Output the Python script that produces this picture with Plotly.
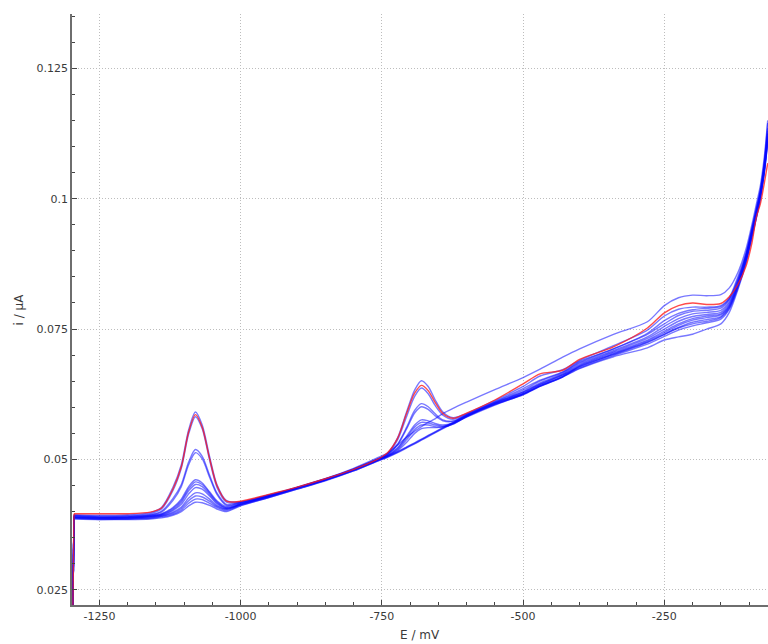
import plotly.graph_objects as go

# Potential grid (mV)
E = [-1297, -1295, -1250, -1200, -1160, -1140, -1120, -1105, -1092, -1080,
     -1068, -1055, -1042, -1025, -1000, -950, -900, -850, -800, -760,
     -740, -722, -706, -692, -680, -668, -656, -642, -624, -600,
     -550, -500, -470, -430, -400, -340, -280, -250, -225, -200,
     -175, -150, -135, -120, -105, -95, -87, -80, -73, -67]

# Current (uA) for each scan
b1 = [0.0205, 0.0394, 0.0393, 0.0394, 0.0398, 0.0408, 0.0446, 0.0490, 0.0557, 0.0591,
      0.0566, 0.0506, 0.0452, 0.0421, 0.0419, 0.0432, 0.0446, 0.0462, 0.0480, 0.0498,
      0.0512, 0.0542, 0.0592, 0.0633, 0.0651, 0.0640, 0.0615, 0.0591, 0.0580, 0.0588,
      0.0613, 0.0640, 0.0660, 0.0672, 0.0690, 0.0718, 0.0748, 0.0775, 0.0788, 0.0792,
      0.0792, 0.0795, 0.0810, 0.0850, 0.0898, 0.0943, 0.0983, 0.1018, 0.1072, 0.1145]
b2 = [0.0205, 0.0392, 0.0391, 0.0392, 0.0396, 0.0405, 0.0440, 0.0483, 0.0549, 0.0582,
      0.0559, 0.0499, 0.0447, 0.0418, 0.0418, 0.0431, 0.0446, 0.0462, 0.0481, 0.0499,
      0.0511, 0.0538, 0.0583, 0.0621, 0.0637, 0.0626, 0.0604, 0.0585, 0.0577, 0.0587,
      0.0611, 0.0636, 0.0652, 0.0668, 0.0688, 0.0712, 0.0742, 0.0766, 0.0780, 0.0787,
      0.0790, 0.0793, 0.0808, 0.0845, 0.0893, 0.0938, 0.0978, 0.1012, 0.1062, 0.1125]
b3 = [0.0205, 0.0393, 0.0390, 0.0391, 0.0394, 0.0401, 0.0425, 0.0452, 0.0495, 0.0519,
      0.0506, 0.0470, 0.0436, 0.0414, 0.0418, 0.0432, 0.0447, 0.0463, 0.0482, 0.0500,
      0.0510, 0.0530, 0.0562, 0.0594, 0.0607, 0.0601, 0.0588, 0.0576, 0.0574, 0.0586,
      0.0610, 0.0633, 0.0650, 0.0667, 0.0686, 0.0712, 0.0740, 0.0760, 0.0776, 0.0784,
      0.0786, 0.0790, 0.0806, 0.0843, 0.0895, 0.0942, 0.0980, 0.1015, 0.1068, 0.1135]
b4 = [0.0205, 0.0390, 0.0389, 0.0390, 0.0393, 0.0399, 0.0421, 0.0448, 0.0490, 0.0513,
      0.0501, 0.0466, 0.0433, 0.0412, 0.0417, 0.0431, 0.0446, 0.0462, 0.0481, 0.0499,
      0.0509, 0.0528, 0.0559, 0.0589, 0.0601, 0.0596, 0.0584, 0.0574, 0.0573, 0.0585,
      0.0609, 0.0630, 0.0647, 0.0665, 0.0684, 0.0709, 0.0735, 0.0755, 0.0770, 0.0779,
      0.0782, 0.0786, 0.0802, 0.0840, 0.0892, 0.0938, 0.0976, 0.1012, 0.1065, 0.1130]
b5 = [0.0205, 0.0391, 0.0389, 0.0389, 0.0392, 0.0396, 0.0408, 0.0424, 0.0448, 0.0461,
      0.0455, 0.0438, 0.0421, 0.0410, 0.0416, 0.0430, 0.0446, 0.0462, 0.0481, 0.0499,
      0.0508, 0.0523, 0.0545, 0.0566, 0.0576, 0.0574, 0.0569, 0.0566, 0.0570, 0.0584,
      0.0608, 0.0628, 0.0645, 0.0663, 0.0682, 0.0707, 0.0732, 0.0750, 0.0765, 0.0774,
      0.0778, 0.0782, 0.0799, 0.0838, 0.0890, 0.0936, 0.0975, 0.1010, 0.1062, 0.1125]
b6 = [0.0205, 0.0389, 0.0388, 0.0388, 0.0391, 0.0395, 0.0406, 0.0421, 0.0444, 0.0457,
      0.0452, 0.0436, 0.0419, 0.0408, 0.0415, 0.0429, 0.0445, 0.0461, 0.0480, 0.0498,
      0.0507, 0.0521, 0.0542, 0.0562, 0.0571, 0.0570, 0.0566, 0.0564, 0.0569, 0.0583,
      0.0607, 0.0626, 0.0643, 0.0661, 0.0680, 0.0705, 0.0729, 0.0746, 0.0760, 0.0770,
      0.0775, 0.0779, 0.0796, 0.0836, 0.0888, 0.0934, 0.0972, 0.1008, 0.1058, 0.1120]
b7 = [0.0205, 0.0390, 0.0388, 0.0389, 0.0391, 0.0394, 0.0404, 0.0418, 0.0440, 0.0452,
      0.0448, 0.0433, 0.0417, 0.0407, 0.0414, 0.0429, 0.0445, 0.0461, 0.0480, 0.0498,
      0.0507, 0.0519, 0.0538, 0.0557, 0.0566, 0.0566, 0.0563, 0.0563, 0.0568, 0.0582,
      0.0606, 0.0625, 0.0641, 0.0659, 0.0679, 0.0703, 0.0727, 0.0743, 0.0757, 0.0767,
      0.0772, 0.0777, 0.0794, 0.0834, 0.0886, 0.0932, 0.0970, 0.1006, 0.1056, 0.1118]
b8 = [0.0205, 0.0388, 0.0387, 0.0388, 0.0390, 0.0393, 0.0402, 0.0414, 0.0434, 0.0446,
      0.0443, 0.0430, 0.0415, 0.0406, 0.0414, 0.0429, 0.0445, 0.0461, 0.0480, 0.0498,
      0.0506, 0.0517, 0.0533, 0.0550, 0.0559, 0.0561, 0.0561, 0.0562, 0.0568, 0.0582,
      0.0605, 0.0624, 0.0640, 0.0658, 0.0678, 0.0701, 0.0724, 0.0740, 0.0753, 0.0763,
      0.0768, 0.0774, 0.0792, 0.0832, 0.0884, 0.0930, 0.0968, 0.1004, 0.1054, 0.1115]
b9 = [0.0205, 0.0389, 0.0387, 0.0387, 0.0389, 0.0392, 0.0399, 0.0409, 0.0426, 0.0436,
      0.0434, 0.0424, 0.0412, 0.0405, 0.0414, 0.0430, 0.0446, 0.0463, 0.0483, 0.0502,
      0.0512, 0.0528, 0.0543, 0.0554, 0.0563, 0.0571, 0.0578, 0.0588, 0.0598, 0.0610,
      0.0634, 0.0657, 0.0673, 0.0696, 0.0712, 0.0740, 0.0764, 0.0795, 0.0810, 0.0815,
      0.0814, 0.0816, 0.0829, 0.0858, 0.0905, 0.0950, 0.0990, 0.1025, 0.1080, 0.1150]
b10 = [0.0205, 0.0388, 0.0386, 0.0386, 0.0388, 0.0391, 0.0397, 0.0406, 0.0421, 0.0430,
       0.0428, 0.0420, 0.0410, 0.0404, 0.0413, 0.0428, 0.0444, 0.0460, 0.0479, 0.0497,
       0.0506, 0.0515, 0.0524, 0.0532, 0.0539, 0.0546, 0.0553, 0.0561, 0.0571, 0.0584,
       0.0608, 0.0629, 0.0644, 0.0662, 0.0677, 0.0702, 0.0725, 0.0740, 0.0752, 0.0760,
       0.0765, 0.0772, 0.0790, 0.0830, 0.0882, 0.0928, 0.0966, 0.1002, 0.1052, 0.1112]
b11 = [0.0205, 0.0387, 0.0385, 0.0386, 0.0387, 0.0390, 0.0395, 0.0403, 0.0416, 0.0424,
       0.0423, 0.0416, 0.0408, 0.0402, 0.0412, 0.0427, 0.0443, 0.0460, 0.0478, 0.0496,
       0.0505, 0.0514, 0.0523, 0.0531, 0.0538, 0.0545, 0.0552, 0.0560, 0.0570, 0.0583,
       0.0606, 0.0626, 0.0641, 0.0659, 0.0675, 0.0699, 0.0721, 0.0736, 0.0748, 0.0756,
       0.0762, 0.0769, 0.0788, 0.0828, 0.0880, 0.0926, 0.0964, 0.1000, 0.1050, 0.1110]
b12 = [0.0205, 0.0386, 0.0385, 0.0385, 0.0386, 0.0388, 0.0393, 0.0400, 0.0411, 0.0418,
       0.0417, 0.0412, 0.0405, 0.0400, 0.0411, 0.0427, 0.0443, 0.0459, 0.0478, 0.0496,
       0.0504, 0.0513, 0.0522, 0.0530, 0.0537, 0.0544, 0.0551, 0.0559, 0.0569, 0.0581,
       0.0604, 0.0625, 0.0640, 0.0658, 0.0674, 0.0697, 0.0714, 0.0729, 0.0735, 0.0740,
       0.0750, 0.0760, 0.0782, 0.0825, 0.0878, 0.0925, 0.0963, 0.1000, 0.1050, 0.1108]
red = [0.0205, 0.0396, 0.0396, 0.0396, 0.0399, 0.0407, 0.0443, 0.0486, 0.0553, 0.0586,
       0.0562, 0.0502, 0.0450, 0.0420, 0.0420, 0.0433, 0.0447, 0.0463, 0.0481, 0.0499,
       0.0513, 0.0541, 0.0589, 0.0627, 0.0642, 0.0632, 0.0610, 0.0588, 0.0579, 0.0589,
       0.0614, 0.0645, 0.0664, 0.0671, 0.0692, 0.0716, 0.0752, 0.0781, 0.0795, 0.0800,
       0.0797, 0.0799, 0.0812, 0.0835, 0.0872, 0.0915, 0.0965, 0.0990, 0.1030, 0.1068]

blue_scans = [b1, b2, b3, b4, b5, b6, b7, b8, b9, b10, b11, b12]

x_ticks = [-1250, -1000, -750, -500, -250]
x_labels = ["-1250", "-1000", "-750", "-500", "-250"]
y_ticks = [0.025, 0.05, 0.075, 0.1, 0.125]
y_labels = ["0.025", "0.05", "0.075", "0.1", "0.125"]

BLUE = "rgba(10,10,255,0.55)"
RED = "rgba(255,30,30,0.8)"

fig = go.Figure()


def add_scan(values, color):
    # initial step at switch-on (straight), then the smooth scan
    fig.add_trace(go.Scatter(x=E[:2], y=values[:2], mode="lines",
                             line=dict(color=color, width=1.4), hoverinfo="skip"))
    fig.add_trace(go.Scatter(x=E[1:], y=values[1:], mode="lines",
                             line=dict(color=color, width=1.4, shape="spline", smoothing=0.8),
                             hoverinfo="skip"))


for s in blue_scans:
    add_scan(s, BLUE)
add_scan(red, RED)

axis_common = dict(
    showline=True, linecolor="#6e6e6e", linewidth=1.5,
    ticks="inside", ticklen=5, tickwidth=1, tickcolor="#444",
    showgrid=True, gridcolor="#bdbdbd", griddash="1px,2px", gridwidth=1,
    zeroline=False, tickfont=dict(family="DejaVu Sans", size=11, color="#3a3a3a"),
)

fig.update_layout(
    width=768, height=644,
    margin=dict(l=72, r=0, t=14, b=39),
    plot_bgcolor="white", paper_bgcolor="white",
    showlegend=False,
    font=dict(family="DejaVu Sans", size=11, color="#3a3a3a"),
    xaxis=dict(range=[-1298.5, -66.5], tickmode="array", tickvals=x_ticks, ticktext=x_labels,
               minor=dict(ticks="inside", ticklen=3, tickcolor="#444", tickmode="linear",
                          tick0=-1250, dtick=50, showgrid=False),
               **axis_common),
    yaxis=dict(range=[0.0221, 0.1354], tickmode="array", tickvals=y_ticks, ticktext=y_labels,
               minor=dict(ticks="inside", ticklen=3, tickcolor="#444", tickmode="linear",
                          tick0=0.025, dtick=0.005, showgrid=False),
               **axis_common),
    annotations=[
        dict(text="E / mV", xref="paper", yref="paper", x=0.5, y=-30 / 591,
             xanchor="center", yanchor="middle", showarrow=False,
             font=dict(family="DejaVu Sans", size=12, color="#3a3a3a")),
        dict(text="i / µA", xref="paper", yref="paper", x=-54 / 696, y=0.5,
             xanchor="center", yanchor="middle", showarrow=False, textangle=-90,
             font=dict(family="DejaVu Sans", size=12, color="#3a3a3a")),
    ],
)

fig.write_html("out.html")
